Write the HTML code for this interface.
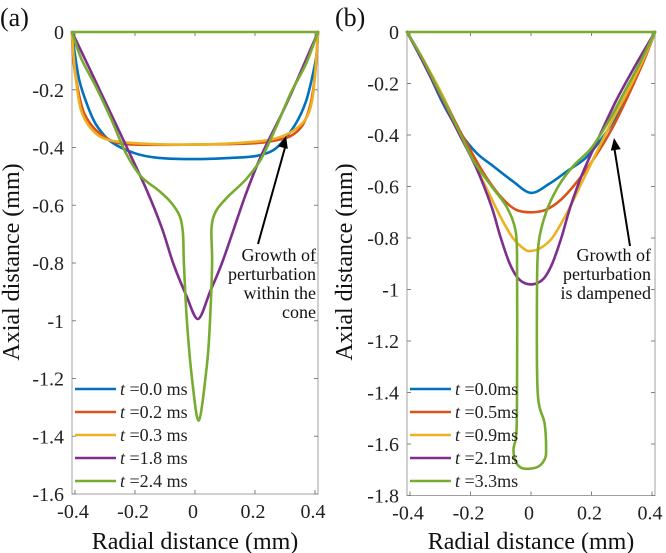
<!DOCTYPE html>
<html><head><meta charset="utf-8">
<style>
html,body{margin:0;padding:0;background:#fff;}
svg{display:block;}
svg text{font-family:"Liberation Serif","DejaVu Serif","Noto Serif CJK SC",serif;}
</style></head>
<body>
<svg id="fig" width="666" height="553" viewBox="0 0 666 553" xmlns="http://www.w3.org/2000/svg"></svg>
<script>
const colors=["#0072BD","#D95319","#EDB120","#7E2F8E","#77AC30"];
const legendA=["0.0 ms","0.2 ms","0.3 ms","1.8 ms","2.4 ms"];
const legendB=["0.0ms","0.5ms","0.9ms","2.1ms","3.3ms"];
const xTicks=[-0.4,-0.2,0,0.2,0.4];
const yTicksA=[0,-0.2,-0.4,-0.6,-0.8,-1,-1.2,-1.4,-1.6];
const yTicksB=[0,-0.2,-0.4,-0.6,-0.8,-1,-1.2,-1.4,-1.6,-1.8];
// panel (a) curves: [r, z]
const a0=[[-0.41,0],[-0.4,-0.08],[-0.385,-0.17],[-0.36,-0.25],[-0.33,-0.32],[-0.28,-0.38],[-0.2,-0.42],[-0.12,-0.436],[0,-0.44],[0.12,-0.436],[0.2,-0.43],[0.26,-0.41],[0.3,-0.37],[0.34,-0.31],[0.37,-0.24],[0.39,-0.16],[0.405,-0.08],[0.41,0]];
const a1=[[-0.41,0],[-0.405,-0.1],[-0.39,-0.2],[-0.37,-0.28],[-0.33,-0.34],[-0.27,-0.38],[-0.2,-0.39],[0,-0.39],[0.2,-0.385],[0.27,-0.375],[0.32,-0.36],[0.36,-0.32],[0.385,-0.25],[0.4,-0.15],[0.41,0]];
const a2=[[-0.41,0],[-0.405,-0.08],[-0.395,-0.18],[-0.38,-0.27],[-0.35,-0.33],[-0.3,-0.37],[-0.2,-0.385],[0,-0.39],[0.2,-0.38],[0.28,-0.365],[0.33,-0.34],[0.37,-0.3],[0.39,-0.24],[0.4,-0.15],[0.41,0]];
const a3=[[-0.41,0],[-0.35,-0.13],[-0.3,-0.24],[-0.227,-0.4],[-0.16,-0.55],[-0.11,-0.68],[-0.073,-0.8],[-0.03,-0.91],[0.01,-0.994],[0.05,-0.9],[0.09,-0.8],[0.13,-0.68],[0.17,-0.56],[0.22,-0.43],[0.3,-0.26],[0.36,-0.12],[0.41,0]];
const a4=[[-0.41,0],[-0.38,-0.09],[-0.33,-0.19],[-0.28,-0.3],[-0.23,-0.42],[-0.18,-0.5],[-0.12,-0.55],[-0.08,-0.59],[-0.05,-0.64],[-0.04,-0.7],[-0.037,-0.8],[-0.027,-1.0],[-0.01,-1.2],[0.013,-1.345],[0.04,-1.15],[0.05,-1.0],[0.057,-0.8],[0.055,-0.68],[0.07,-0.62],[0.11,-0.57],[0.17,-0.51],[0.22,-0.44],[0.27,-0.33],[0.32,-0.21],[0.37,-0.11],[0.41,0],[-0.41,0]];
// panel (b) curves
const b0=[[-0.41,0],[-0.37,-0.08],[-0.33,-0.18],[-0.29,-0.28],[-0.235,-0.39],[-0.18,-0.47],[-0.126,-0.52],[-0.06,-0.58],[0,-0.625],[0.06,-0.59],[0.12,-0.54],[0.18,-0.49],[0.23,-0.42],[0.27,-0.35],[0.31,-0.26],[0.35,-0.17],[0.38,-0.09],[0.41,0]];
const b1=[[-0.41,0],[-0.36,-0.1],[-0.3,-0.23],[-0.25,-0.35],[-0.2,-0.46],[-0.15,-0.56],[-0.1,-0.64],[-0.05,-0.69],[0,-0.7],[0.05,-0.69],[0.1,-0.65],[0.16,-0.57],[0.22,-0.47],[0.27,-0.37],[0.32,-0.25],[0.37,-0.12],[0.41,0]];
const b2=[[-0.41,0],[-0.36,-0.1],[-0.3,-0.23],[-0.25,-0.36],[-0.2,-0.48],[-0.15,-0.6],[-0.1,-0.72],[-0.06,-0.8],[-0.02,-0.845],[0,-0.85],[0.03,-0.84],[0.07,-0.8],[0.12,-0.7],[0.17,-0.58],[0.22,-0.46],[0.27,-0.34],[0.32,-0.23],[0.37,-0.11],[0.41,0]];
const b3=[[-0.41,0],[-0.36,-0.11],[-0.3,-0.25],[-0.24,-0.39],[-0.18,-0.53],[-0.13,-0.68],[-0.1,-0.8],[-0.07,-0.9],[-0.04,-0.96],[0,-0.98],[0.04,-0.96],[0.07,-0.9],[0.1,-0.8],[0.13,-0.68],[0.17,-0.55],[0.22,-0.42],[0.28,-0.27],[0.34,-0.14],[0.41,0]];
const b4=[[-0.41,0],[-0.36,-0.1],[-0.3,-0.24],[-0.24,-0.38],[-0.19,-0.5],[-0.13,-0.6],[-0.08,-0.68],[-0.05,-0.78],[-0.046,-0.95],[-0.046,-1.3],[-0.048,-1.55],[-0.058,-1.62],[-0.05,-1.67],[-0.026,-1.695],[0.02,-1.69],[0.045,-1.66],[0.05,-1.62],[0.045,-1.52],[0.022,-1.4],[0.02,-1.0],[0.025,-0.82],[0.05,-0.7],[0.09,-0.6],[0.14,-0.52],[0.2,-0.45],[0.26,-0.34],[0.31,-0.23],[0.36,-0.12],[0.41,0],[-0.41,0]];
const seriesA=[a0,a1,a2,a3,a4];
const seriesB=[b0,b1,b2,b3,b4];

const NS="http://www.w3.org/2000/svg";
const FONT='Liberation Serif, DejaVu Serif, serif';
const svg=document.getElementById('fig');
function mk(tag,attrs,parent){const e=document.createElementNS(NS,tag);for(const k in attrs)e.setAttribute(k,attrs[k]);if(tag==='text')e.setAttribute('font-family',FONT);(parent||svg).appendChild(e);return e;}
function smoothPath(all){
  // if closed along the top (last point jumps back), draw that part straight
  let pts=all,tail='';
  const n=all.length;
  if(n>2 && Math.abs(all[n-1][0]-all[n-2][0])>100){pts=all.slice(0,n-1);tail=' L'+all[n-1][0].toFixed(1)+','+all[n-1][1].toFixed(1);}
  let d='M'+pts[0][0].toFixed(1)+','+pts[0][1].toFixed(1);
  for(let i=0;i<pts.length-1;i++){
    const p0=pts[Math.max(0,i-1)],p1=pts[i],p2=pts[i+1],p3=pts[Math.min(pts.length-1,i+2)];
    const t=0.16;
    const c1=[p1[0]+(p2[0]-p0[0])*t,p1[1]+(p2[1]-p0[1])*t];
    const c2=[p2[0]-(p3[0]-p1[0])*t,p2[1]-(p3[1]-p1[1])*t];
    d+=' C'+c1.map(v=>v.toFixed(1)).join(',')+' '+c2.map(v=>v.toFixed(1)).join(',')+' '+p2.map(v=>v.toFixed(1)).join(',');
  }
  return d+tail;
}

function panel(p){
  const g=mk('g',{});
  
  
  const X=r=>p.cx+r*p.sx;
  const Y=z=>p.top-z*p.sy;
  const L=X(-0.41),R=X(0.41),T=Y(0),B=Y(p.ymin);
  const box=mk('rect',{x:L,y:T,width:R-L,height:B-T,fill:'none',stroke:'#a0a0a0','stroke-width':1},g);
  
  
  xTicks.forEach(v=>{
    const x=X(v);
    mk('line',{x1:x,y1:B,x2:x,y2:B-4,stroke:'#808080'},g);
    mk('line',{x1:x,y1:T,x2:x,y2:T+4,stroke:'#808080'},g);
    const t=mk('text',{x:x-2,y:B+24,'text-anchor':'middle','font-size':20,fill:'#222'},g);
    t.textContent=String(v);
    
    
  });
  p.yt.forEach(v=>{
    const y=Y(v);
    mk('line',{x1:L,y1:y,x2:L+4,y2:y,stroke:'#808080'},g);
    mk('line',{x1:R,y1:y,x2:R-4,y2:y,stroke:'#808080'},g);
    const t=mk('text',{x:L-8,y:y+7,'text-anchor':'end','font-size':20,fill:'#222'},g);
    t.textContent=String(v);
    
    
  });
  p.series.forEach((s,i)=>{
    const pl=mk('path',{d:smoothPath(s.map(q=>[X(q[0]),Y(q[1])])),fill:'none',stroke:colors[i],'stroke-width':2.6,'stroke-linejoin':'round','stroke-linecap':'round'},g);
    
    
  });
  p.legend.forEach((lab,i)=>{
    const y=389+i*23;
    const ln=mk('line',{x1:L+3,y1:y,x2:L+44,y2:y,stroke:colors[i],'stroke-width':2.6},g);
    
    
    const t=mk('text',{x:L+48,y:y+6,'font-size':18,fill:'#222'},g);
    t.innerHTML='<tspan font-style="italic">t</tspan> ='+lab;
    
    
  });
  const xl=mk('text',{x:X(0),y:549,'text-anchor':'middle','font-size':24,fill:'#111'},g);
  xl.textContent='Radial distance (mm)';
  
  
  const yl=mk('text',{x:0,y:0,'text-anchor':'middle','font-size':24,fill:'#111',transform:'translate('+p.ylx+',262) rotate(-90)'},g);
  yl.textContent='Axial distance (mm)';
  
  
  const pt=mk('text',{x:p.plx,y:26,'font-size':26,fill:'#111'},g);
  pt.textContent=p.label;
  
  
  const an=mk('g',{},g);
  
  
  p.note.forEach((s,i)=>{
    const t=mk('text',{x:p.noteX,y:p.noteY+i*19,'text-anchor':'end','font-size':18,fill:'#111'},an);
    t.textContent=s;
  });
  const a=p.arrow;
  mk('line',{x1:a[0],y1:a[1],x2:a[2],y2:a[3]+8,stroke:'#000','stroke-width':2},an);
  const ang=Math.atan2(a[3]-a[1],a[2]-a[0]);
  const hx=a[2],hy=a[3],s=12,w=5;
  const bx=hx-s*Math.cos(ang),by=hy-s*Math.sin(ang);
  mk('polygon',{points:[hx,hy,bx+w*Math.sin(ang),by-w*Math.cos(ang),bx-w*Math.sin(ang),by+w*Math.cos(ang)].join(' '),fill:'#000'},an);
}
panel({id:'a',cx:195,sx:300,top:32,sy:288.75,ymin:-1.6,yt:yTicksA,series:seriesA,legend:legendA,ylx:19,plx:0,label:'(a)',
  note:['Growth of','perturbation','within the','cone'],noteX:316,noteY:261,arrow:[258,244,286,136]});
panel({id:'b',cx:531,sx:302.5,top:32,sy:257.5,ymin:-1.8,yt:yTicksB,series:seriesB,legend:legendB,ylx:352,plx:335,label:'(b)',
  note:['Growth of','perturbation','is dampened'],noteX:651,noteY:261,arrow:[630,246,614,138]});
</script>
</body></html>
